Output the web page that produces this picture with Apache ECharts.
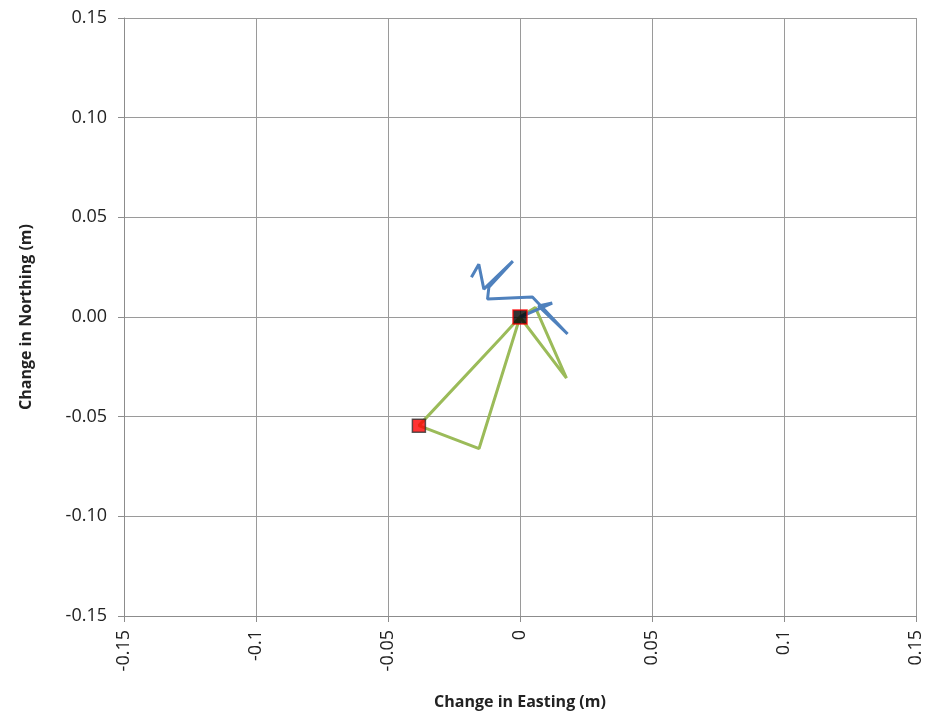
<!DOCTYPE html>
<html>
<head>
<meta charset="utf-8">
<script src="https://cdn.jsdelivr.net/npm/echarts@6/dist/echarts.min.js"></script>
<style>html,body{margin:0;padding:0;background:#fff}#c{width:936px;height:715px}</style>
</head>
<body>
<div id="c"></div>
<script>
// Blue series: change in easting / northing (m)
var blueEasting  = [0, 0.0122, 0.0070, 0.0180, 0.0047, -0.0123, -0.0118, -0.0027, -0.0137, -0.0156, -0.0184];
var blueNorthing = [0, 0.0070, 0.0055, -0.0085, 0.0100, 0.0090, 0.0149, 0.0280, 0.0140, 0.0265, 0.0199];
// Green series
var greenEasting  = [0, 0.0058, 0.0176, 0, -0.0155, -0.0383, -0.0070, 0];
var greenNorthing = [0, 0.0048, -0.0307, 0, -0.0660, -0.0545, -0.0102, 0];
// Marker points
var blackMarker = [0, 0];
var redMarker = [-0.0383, -0.0545];
var xTicks = [-0.15, -0.1, -0.05, 0, 0.05, 0.1, 0.15];
var yTicks = [-0.15, -0.10, -0.05, 0.00, 0.05, 0.10, 0.15];

function zip(a, b) { return a.map(function (v, i) { return [v, b[i]]; }); }

var font = '"Open Sans", "Liberation Sans", sans-serif';
var chart = echarts.init(document.getElementById('c'), null, {renderer: 'canvas'});
chart.setOption({
  animation: false,
  grid: {left: 124, width: 792, top: 18, height: 600, containLabel: false},
  xAxis: {
    type: 'value', min: xTicks[0], max: xTicks[xTicks.length - 1], interval: 0.05,
    name: 'Change in Easting (m)', nameLocation: 'middle', nameGap: 78,
    nameTextStyle: {fontFamily: font, fontWeight: 'bold', fontSize: 16, color: '#222'},
    axisLine: {show: true, onZero: false, lineStyle: {color: '#8c8c8c', width: 1}},
    axisTick: {show: true, length: 6, lineStyle: {color: '#8c8c8c'}},
    splitLine: {show: true, lineStyle: {color: '#9a9a9a', width: 1}},
    axisLabel: {rotate: 90, margin: 14, fontFamily: font, fontSize: 18, color: '#222',
      formatter: function (v) { return String(+(+v).toFixed(2)); }}
  },
  yAxis: {
    type: 'value', min: yTicks[0], max: yTicks[yTicks.length - 1], interval: 0.05,
    name: 'Change in Northing (m)', nameLocation: 'middle', nameGap: 90,
    nameTextStyle: {fontFamily: font, fontWeight: 'bold', fontSize: 16, color: '#222'},
    axisLine: {show: true, onZero: false, lineStyle: {color: '#8c8c8c', width: 1}},
    axisTick: {show: true, length: 6, lineStyle: {color: '#8c8c8c'}},
    splitLine: {show: true, lineStyle: {color: '#9a9a9a', width: 1}},
    axisLabel: {margin: 17, fontFamily: font, fontSize: 18, color: '#222',
      formatter: function (v) { return (+v).toFixed(2); }}
  },
  series: [
    {type: 'line', data: zip(greenEasting, greenNorthing), showSymbol: false, symbol: 'none',
      lineStyle: {color: '#9bbb59', width: 3}, z: 2},
    {type: 'line', data: zip(blueEasting, blueNorthing), showSymbol: false, symbol: 'none',
      lineStyle: {color: '#4f81bd', width: 3}, z: 3},
    {type: 'scatter', data: [redMarker], symbol: 'rect', symbolSize: 13,
      itemStyle: {color: '#ff0000', borderColor: '#333', borderWidth: 1.5}, z: 5},
    {type: 'scatter', data: [blackMarker], symbol: 'rect', symbolSize: 14,
      itemStyle: {color: '#000', borderColor: '#ff0000', borderWidth: 1.5}, z: 5}
  ]
});
</script>
</body>
</html>
